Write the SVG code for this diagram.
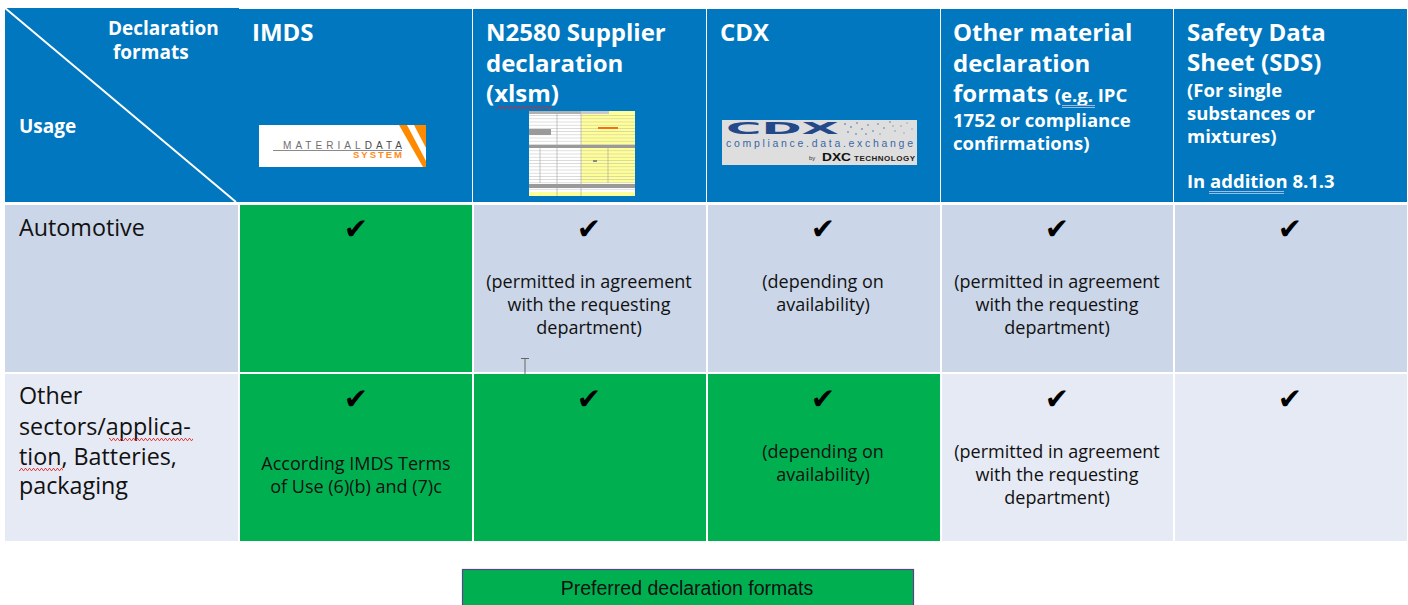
<svg xmlns="http://www.w3.org/2000/svg" width="1408" height="605" viewBox="0 0 1408 605">
<defs>
<style>
.hdr{fill:#0077BF}
.r1{fill:#CBD6E8}
.r2{fill:#E6EAF4}
.grn{fill:#00B050}
.ht{font-family:"Open Sans","Noto Sans",sans-serif;font-weight:700;fill:#fff;font-size:24px}
.hs{font-family:"Open Sans","Noto Sans",sans-serif;font-weight:700;fill:#fff;font-size:18.5px}
.rl{font-family:"Open Sans","Noto Sans",sans-serif;fill:#111;font-size:23.3px}
.bt{font-family:"Open Sans","Noto Sans",sans-serif;fill:#111;font-size:18px;text-anchor:middle}
.ck{font-family:"DejaVu Sans",sans-serif;fill:#000;font-size:29px;text-anchor:middle}
.lg{font-family:"Liberation Sans",Arial,sans-serif;fill:#111;font-size:19.5px;text-anchor:middle}
.sq{fill:url(#wavy)}
.gu{stroke:#9DBBE3;stroke-width:1;fill:none}
</style>
<pattern id="wavy" width="4" height="3" patternUnits="userSpaceOnUse">
<path d="M0 2.5 L1 0.5 L2 0.5 L3 2.5 L4 2.5" stroke="#E02020" stroke-width="0.8" fill="none"/>
</pattern>
<pattern id="rows" width="6" height="3.2" patternUnits="userSpaceOnUse">
<rect width="6" height="0.7" fill="#A8A8A8"/>
</pattern>
</defs>

<rect width="1408" height="605" fill="#fff"/>

<!-- Header row -->
<g id="hdr-corner">
<rect class="hdr" x="5" y="8" width="234" height="194"/>
<line x1="5" y1="8" x2="236" y2="202" stroke="#fff" stroke-width="2"/>
<text class="hs" x="108" y="35" style="font-size:19px">Declaration</text>
<text class="hs" x="113" y="59" style="font-size:19px">formats</text>
<text class="hs" x="19" y="133" style="font-size:19px">Usage</text>
</g>

<g id="hdr-imds">
<rect class="hdr" x="239" y="9" width="233" height="193"/>
<text class="ht" x="252" y="41">IMDS</text>
<g id="imds-logo">
<rect x="259" y="125" width="167" height="42" fill="#fff"/>
<polygon points="399,125 407,125 426,161 426,167 423,167" fill="#FF8A00"/>
<polygon points="414,125 426,125 426,148" fill="#FF8A00"/>
<line x1="273" y1="150.5" x2="402" y2="150.5" stroke="#8A8A8A" stroke-width="1"/>
<text x="283" y="149" font-family="Liberation Sans,Arial,sans-serif" font-size="10" fill="#6E6E6E" textLength="119" lengthAdjust="spacing">MATERIAL<tspan fill="#4A4A4A">DATA</tspan></text>
<text x="353" y="158" font-family="Liberation Sans,Arial,sans-serif" font-size="9.5" font-weight="700" fill="#FF8A1A" textLength="49" lengthAdjust="spacing">SYSTEM</text>
</g>
</g>

<g id="hdr-n2580">
<rect class="hdr" x="473" y="9" width="233" height="193"/>
<text class="ht" x="486" y="41">N2580 Supplier</text>
<text class="ht" x="486" y="72">declaration</text>
<text class="ht" x="486" y="102">(xlsm)</text>
<rect class="sq" x="497" y="106" width="55" height="3"/>
<g id="xlsm-thumb">
<rect x="529" y="111" width="106" height="85" fill="#fff"/>
<rect x="581" y="114" width="54" height="31" fill="#FFFF99"/>
<rect x="581" y="148" width="54" height="35" fill="#FFFF99"/>
<rect x="529" y="111" width="106" height="85" fill="url(#rows)" opacity="0.55"/>
<rect x="529" y="111" width="52" height="3" fill="#B0B0B0"/>
<rect x="581" y="111" width="28" height="3" fill="#C8C8C8"/>
<rect x="609" y="111" width="26" height="3" fill="#FFFF99"/>
<rect x="529" y="129" width="22" height="6" fill="#9A9A9A"/>
<rect x="529" y="145" width="106" height="3" fill="#9A9A9A"/>
<rect x="529" y="184" width="106" height="4" fill="#9A9A9A"/>
<rect x="529" y="192" width="106" height="4" fill="#FFFF99"/>
<rect x="598" y="127" width="20" height="2" fill="#F07020"/>
<rect x="593" y="160" width="4" height="2" fill="#888"/>
<line x1="557" y1="114" x2="557" y2="196" stroke="#A0A0A0" stroke-width="0.6"/>
<line x1="581" y1="114" x2="581" y2="196" stroke="#A0A0A0" stroke-width="0.6"/>
<line x1="608" y1="148" x2="608" y2="183" stroke="#A0A0A0" stroke-width="0.6"/>
<line x1="540" y1="148" x2="540" y2="183" stroke="#A0A0A0" stroke-width="0.6"/>
</g>
</g>

<g id="hdr-cdx">
<rect class="hdr" x="707" y="9" width="233" height="193"/>
<text class="ht" x="720" y="41">CDX</text>
<g id="cdx-logo">
<rect x="722" y="120" width="195" height="45" fill="#DEDEDE"/>
<text x="726" y="134" font-family="DejaVu Sans,sans-serif" font-size="12" font-weight="700" fill="#24498A" textLength="113" lengthAdjust="spacingAndGlyphs" transform="translate(0,-33.5) scale(1,1.25)">CDX</text>
<g fill="#7E9CC8">
<circle cx="845" cy="124" r="1.1"/><circle cx="851" cy="127" r="1.1"/><circle cx="857" cy="123" r="1"/><circle cx="862" cy="129" r="1.1"/><circle cx="868" cy="125" r="1"/><circle cx="873" cy="131" r="1"/><circle cx="878" cy="124" r="0.9"/><circle cx="884" cy="128" r="0.9"/><circle cx="890" cy="122" r="0.9"/><circle cx="895" cy="131" r="0.8"/><circle cx="901" cy="126" r="0.8"/><circle cx="907" cy="123" r="0.7"/><circle cx="912" cy="129" r="0.7"/><circle cx="848" cy="132" r="1"/><circle cx="856" cy="134" r="1"/><circle cx="866" cy="134" r="0.9"/><circle cx="880" cy="134" r="0.8"/><circle cx="893" cy="126" r="0.8"/><circle cx="904" cy="133" r="0.7"/>
</g>
<text x="726" y="146.5" font-family="Liberation Sans,Arial,sans-serif" font-size="10.5" fill="#3A66A6" textLength="187" lengthAdjust="spacing">compliance.data.exchange</text>
<text x="809" y="160" font-family="Liberation Sans,Arial,sans-serif" font-size="6" fill="#333">by</text>
<text x="822" y="161" font-family="Liberation Sans,Arial,sans-serif" font-size="11" font-weight="700" fill="#111" textLength="29" lengthAdjust="spacingAndGlyphs">DXC</text>
<text x="854" y="160.5" font-family="Liberation Sans,Arial,sans-serif" font-size="8" font-weight="700" fill="#222" textLength="61" lengthAdjust="spacing">TECHNOLOGY</text>
</g>
</g>

<g id="hdr-other">
<rect class="hdr" x="941" y="9" width="232" height="193"/>
<text class="ht" x="953" y="41">Other material</text>
<text class="ht" x="953" y="72">declaration</text>
<text class="ht" x="953" y="102">formats <tspan style="font-size:18.5px">(e.g. IPC</tspan></text>
<line class="gu" x1="1062" y1="105.5" x2="1095" y2="105.5"/>
<line class="gu" x1="1062" y1="107.5" x2="1095" y2="107.5"/>
<text class="hs" x="953" y="127">1752 or compliance</text>
<text class="hs" x="953" y="150">confirmations)</text>
</g>

<g id="hdr-sds">
<rect class="hdr" x="1174" y="9" width="233" height="193"/>
<text class="ht" x="1187" y="41">Safety Data</text>
<text class="ht" x="1187" y="71">Sheet (SDS)</text>
<text class="hs" x="1187" y="97">(For single</text>
<text class="hs" x="1187" y="120">substances or</text>
<text class="hs" x="1187" y="143">mixtures)</text>
<text class="hs" x="1187" y="188">In addition 8.1.3</text>
<line class="gu" x1="1209" y1="191.5" x2="1284" y2="191.5"/>
<line class="gu" x1="1209" y1="193.5" x2="1284" y2="193.5"/>
</g>

<!-- Row 1: Automotive -->
<g id="r1-label">
<rect class="r1" x="5" y="205" width="233" height="167"/>
<text class="rl" x="19" y="236">Automotive</text>
</g>
<g id="r1-imds">
<rect class="grn" x="240" y="205" width="232" height="167"/>
<text class="ck" x="356" y="239">✔</text>
</g>
<g id="r1-n2580">
<rect class="r1" x="474" y="205" width="232" height="167"/>
<text class="ck" x="589" y="239">✔</text>
<text class="bt" x="589" y="288">(permitted in agreement</text>
<text class="bt" x="589" y="311">with the requesting</text>
<text class="bt" x="589" y="334">department)</text>
<path d="M521 358.5 h8 M525 358.5 v17 M521 375.5 h8" stroke="#666" stroke-width="1" fill="none"/>
</g>
<g id="r1-cdx">
<rect class="r1" x="708" y="205" width="232" height="167"/>
<text class="ck" x="823" y="239">✔</text>
<text class="bt" x="823" y="288">(depending on</text>
<text class="bt" x="823" y="311">availability)</text>
</g>
<g id="r1-other">
<rect class="r1" x="942" y="205" width="231" height="167"/>
<text class="ck" x="1057" y="239">✔</text>
<text class="bt" x="1057" y="288">(permitted in agreement</text>
<text class="bt" x="1057" y="311">with the requesting</text>
<text class="bt" x="1057" y="334">department)</text>
</g>
<g id="r1-sds">
<rect class="r1" x="1175" y="205" width="232" height="167"/>
<text class="ck" x="1290" y="239">✔</text>
</g>

<!-- Row 2: Other sectors -->
<g id="r2-label">
<rect class="r2" x="5" y="374" width="233" height="167"/>
<text class="rl" x="19" y="404">Other</text>
<text class="rl" x="19" y="435">sectors/applica-</text>
<text class="rl" x="19" y="465">tion, Batteries,</text>
<text class="rl" x="19" y="494">packaging</text>
<rect class="sq" x="109" y="438" width="84" height="3"/>
<rect class="sq" x="19" y="468" width="44" height="3"/>
</g>
<g id="r2-imds">
<rect class="grn" x="240" y="374" width="232" height="167"/>
<text class="ck" x="356" y="409">✔</text>
<text class="bt" x="356" y="470">According IMDS Terms</text>
<text class="bt" x="356" y="493">of Use (6)(b) and (7)c</text>
</g>
<g id="r2-n2580">
<rect class="grn" x="474" y="374" width="232" height="167"/>
<text class="ck" x="589" y="409">✔</text>
</g>
<g id="r2-cdx">
<rect class="grn" x="708" y="374" width="232" height="167"/>
<text class="ck" x="823" y="409">✔</text>
<text class="bt" x="823" y="458">(depending on</text>
<text class="bt" x="823" y="481">availability)</text>
</g>
<g id="r2-other">
<rect class="r2" x="942" y="374" width="231" height="167"/>
<text class="ck" x="1057" y="409">✔</text>
<text class="bt" x="1057" y="458">(permitted in agreement</text>
<text class="bt" x="1057" y="481">with the requesting</text>
<text class="bt" x="1057" y="504">department)</text>
</g>
<g id="r2-sds">
<rect class="r2" x="1175" y="374" width="232" height="167"/>
<text class="ck" x="1290" y="409">✔</text>
</g>

<g id="connectors"></g>

<!-- Legend -->
<g id="legend">
<rect x="462.5" y="569.5" width="451" height="45" fill="#00B050" stroke="#5E3F8E" stroke-width="1.2"/>
<text class="lg" x="687" y="595">Preferred declaration formats</text>
</g>
</svg>
